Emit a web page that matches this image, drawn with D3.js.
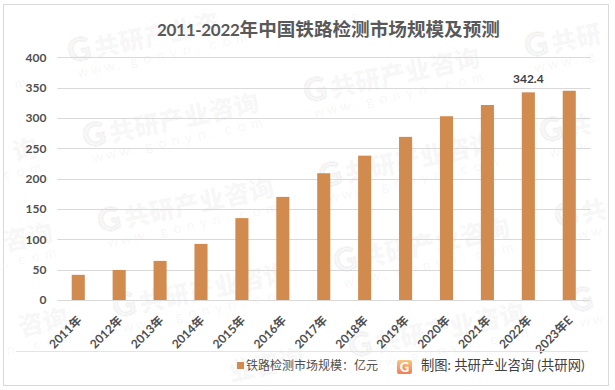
<!DOCTYPE html>
<html><head><meta charset="utf-8">
<script src="https://cdn.jsdelivr.net/npm/d3@7/dist/d3.min.js"></script>
<style>html,body{margin:0;padding:0;background:#fff}svg{display:block}
text{font-family:Lato,"Noto Sans CJK SC",sans-serif}</style></head>
<body><svg id="c" width="615" height="390"></svg>
<script>
const titleYears = "2011-2022";
const titleRest = "年中国铁路检测市场规模及预测";
const categories = ["2011年","2012年","2013年","2014年","2015年","2016年","2017年","2018年","2019年","2020年","2021年","2022年","2023年E"];
const values = [41.5,49.5,64.5,92.5,135,170,209,238,269,303,321.5,342.4,345];
const yTicks = [0,50,100,150,200,250,300,350,400];
const labelled = ["2022年"];
const seriesName = "铁路检测市场规模：亿元";
const sourceText = "制图: 共研产业咨询 (共研网)";
const wmName = "共研产业咨询";
const wmSite = "www.gonyn.com";
const barColor = "#D28B4E";

const svg = d3.select("#c");
svg.append("rect").attr("x",3.5).attr("y",4.5).attr("width",605).attr("height",381).attr("fill","#fff").attr("stroke","#D9D9D9").attr("stroke-width",1);

// watermark lattice: each glyph is its own text, those crossing the page edge are left out
const wm = svg.append("g").attr("pointer-events","none");
const rad = 12*Math.PI/180, W=615, H=390;
function glyph(px,py,lx,ly,ch,size,weight,fill,sw){
  const ax = px+lx*Math.cos(rad)+ly*Math.sin(rad), ay = py-lx*Math.sin(rad)+ly*Math.cos(rad);
  if (ax<4 || ax>W-size-6 || ay<size+6 || ay>H-8) return;
  const t = wm.append("text").attr("transform",`translate(${ax},${ay}) rotate(-12)`)
    .attr("font-size",size).attr("font-weight",weight).attr("fill",fill).text(ch);
  if (sw) t.attr("stroke",fill).attr("stroke-width",sw);
}
for (let j=-1;j<=2;j++) for (let i=-1;i<=4;i++){
  const px = 70+i*15+j*236, py = 63+i*85+j*40;
  glyph(px,py,0,0,"G",32,900,"rgba(0,0,0,0.045)",2);
  Array.from(wmName).forEach((c,k)=>glyph(px,py,27+k*25.5,0,c,25,900,"rgba(0,0,0,0.05)"));
  Array.from(wmSite).forEach((c,k)=>glyph(px,py,5+k*13.5,16,c,14,400,"rgba(0,0,0,0.055)"));
}

const x = d3.scaleBand().domain(categories).range([57.8,589.7]).paddingInner(0.68).paddingOuter(0.34);
const y = d3.scaleLinear().domain([0,400]).range([300,57.4]);

const gy = svg.append("g").attr("transform","translate(57.5,0)")
  .call(d3.axisLeft(y).tickValues(yTicks).tickSize(0).tickPadding(11));
gy.select(".domain").remove();
gy.selectAll("text").attr("font-size",12).attr("fill","#505050").attr("font-weight",700);
svg.append("g").selectAll("line").data(yTicks).join("line")
  .attr("x1",57.5).attr("x2",590.5).attr("y1",d=>Math.round(y(d))+.5).attr("y2",d=>Math.round(y(d))+.5)
  .attr("stroke","#D9D9D9");

svg.append("g").selectAll("rect").data(categories).join("rect")
  .attr("x",d=>x(d)).attr("width",x.bandwidth())
  .attr("y",(d,i)=>y(values[i])).attr("height",(d,i)=>y(0)-y(values[i]))
  .attr("fill",barColor);

const gx = svg.append("g").attr("transform","translate(0,300)")
  .call(d3.axisBottom(x).tickSize(0));
gx.select(".domain").remove();
gx.selectAll("text").attr("font-size",12).attr("fill","#505050").attr("font-weight",700)
  .attr("text-anchor","end").attr("dy",0)
  .attr("transform","translate(2,19) rotate(-45)");

svg.append("g").selectAll("text").data(categories.filter(c=>labelled.includes(c))).join("text")
  .attr("x",d=>x(d)+x.bandwidth()/2).attr("y",d=>y(values[categories.indexOf(d)])-9)
  .attr("text-anchor","middle").attr("font-size",12).attr("fill","#404040").attr("font-weight",700)
  .text(d=>values[categories.indexOf(d)]);

const title = svg.append("text").attr("x",157).attr("y",36).attr("font-weight",700).attr("fill","#595959");
title.append("tspan").attr("font-size",17).attr("letter-spacing",-0.3).text(titleYears);
title.append("tspan").attr("font-size",18.6).text(titleRest);

svg.append("line").attr("x1",16).attr("x2",588).attr("y1",351.5).attr("y2",351.5).attr("stroke","#E4E4E4");
svg.append("rect").attr("x",237).attr("y",362).attr("width",7).attr("height",7).attr("fill",barColor);
svg.append("text").attr("x",246).attr("y",370).attr("font-size",12).attr("fill","#505050").text(seriesName);
const defs = svg.append("defs");
const lg = defs.append("linearGradient").attr("id","lg").attr("x1",0).attr("y1",0).attr("x2",0).attr("y2",1);
lg.append("stop").attr("offset",0).attr("stop-color","#F8C47E");
lg.append("stop").attr("offset",1).attr("stop-color","#EE7F5A");
svg.append("rect").attr("x",397).attr("y",360).attr("width",15).attr("height",14).attr("rx",2).attr("fill","url(#lg)");
svg.append("text").attr("x",404.5).attr("y",371.5).attr("text-anchor","middle").attr("font-size",13).attr("font-weight",900).attr("fill","#fff").text("G");
svg.append("text").attr("x",421).attr("y",370).attr("font-size",13.3).attr("fill","#404040").text(sourceText);
</script></body></html>
